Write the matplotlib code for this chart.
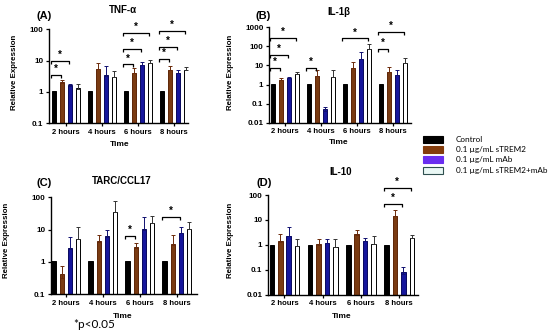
import matplotlib
matplotlib.use('Agg')
import matplotlib.pyplot as plt
import numpy as np
from matplotlib.patches import Rectangle

# ---------------- data ----------------
times = ['2 hours', '4 hours', '6 hours', '8 hours']
groups = ['Control', '0.1 µg/mL sTREM2', '0.1 µg/mL mAb', '0.1 µg/mL sTREM2+mAb']

# (A) TNF-α
tnf_ctrl = [1, 1, 1, 1]
tnf_strem2 = [2.0, 5.3, 4.0, 4.9]
tnf_mab = [1.55, 3.3, 7.4, 3.9]
tnf_combo = [1.2, 2.9, 8.2, 5.0]
tnf_strem2_top = [2.4, 8.2, 5.7, 6.7]
tnf_mab_top = [1.75, 6.7, 9.3, 5.0]
tnf_combo_top = [1.75, 4.8, 10.3, 6.4]
tnf_sig = [(0, 1, 3.4), (0, 2, 10), (2, 1, 7.6), (2, 2, 23.6), (2, 3, 75),
           (3, 1, 11), (3, 2, 28), (3, 3, 89)]

# (B) IL-1β
il1b_ctrl = [1, 1, 1, 1]
il1b_strem2 = [1.7, 2.9, 7.3, 4.7]
il1b_mab = [2.3, 0.04, 22, 3.3]
il1b_combo = [3.5, 2.5, 72, 14]
il1b_strem2_top = [2.2, 5.5, 15, 8]
il1b_mab_top = [2.5, 0.07, 53, 5.7]
il1b_combo_top = [4.8, 6, 130, 25]
il1b_sig = [(0, 1, 7.5), (0, 2, 35), (0, 3, 290), (1, 1, 7.5), (2, 3, 260),
            (3, 1, 75), (3, 3, 590)]

# (C) TARC/CCL17
ccl_ctrl = [1, 1, 1, 1]
ccl_strem2 = [0.31, 4.2, 2.8, 3.4]
ccl_mab = [2.6, 6.1, 10, 7.9]
ccl_combo = [5.0, 35, 15.7, 10.5]
ccl_strem2_top = [0.77, 6.7, 3.9, 6.9]
ccl_mab_top = [5.8, 10, 24, 12]
ccl_combo_top = [11.8, 75, 26, 17]
ccl_sig = [(2, 1, 6.3), (3, 2, 24)]

# (D) IL-10
il10_ctrl = [1, 1, 1, 1]
il10_strem2 = [1.36, 1.03, 2.6, 14.5]
il10_mab = [2.36, 1.17, 1.4, 0.07]
il10_combo = [0.88, 0.83, 1.1, 1.85]
il10_strem2_top = [2.7, 1.74, 3.8, 25]
il10_mab_top = [5.4, 1.74, 1.85, 0.13]
il10_combo_top = [1.7, 1.7, 2.2, 2.4]
il10_sig = [(3, 2, 44), (3, 3, 190)]

# ---------------- style ----------------
W, H = 550, 336
fig = plt.figure(figsize=(5.5, 3.36), dpi=100)
FONT = 'Liberation Sans'
plt.rcParams['font.family'] = [FONT, 'DejaVu Sans']

bar_face = ['#000000', '#7A3B12', '#16169C', '#FFFFFF']
bar_edge = ['#000000', '#5E2608', '#08085E', '#000000']
err_col = ['#000000', '#6B2A0A', '#101070', '#333333']
leg_face = ['#000000', '#843C0C', '#6A2EF0', '#EAF8F5']
leg_edge = ['#000000', '#843C0C', '#6A2EF0', '#2F4F4F']

spacing = 0.22
width = 0.12
offsets = [(i - 1.5) * spacing for i in range(4)]


def px_axes(left, top, right, bottom):
    return fig.add_axes([left / W, 1 - bottom / H, (right - left) / W, (bottom - top) / H])


def panel(box, xlim, ylim, yticks, yticklabels, means, tops, sig, title, letter,
          title_xy, letter_xy, time_xy, ylab_xy):
    ax = px_axes(*box)
    ax.set_yscale('log')
    ax.set_xlim(*xlim)
    ax.set_ylim(*ylim)
    x = np.arange(len(times))
    for g in range(4):
        xs = x + offsets[g]
        ax.bar(xs, means[g], width=width, bottom=ylim[0], color=bar_face[g],
               edgecolor=bar_edge[g], linewidth=0.7, zorder=2)
        if tops[g] is not None:
            up = np.array(tops[g]) - np.array(means[g])
            ax.errorbar(xs, means[g], yerr=[np.zeros(len(xs)), up], fmt='none',
                        ecolor=err_col[g], elinewidth=0.7, capsize=1.3,
                        capthick=0.7, zorder=3)
    ax.set_xticks(x)
    ax.set_xticklabels(times, fontsize=5.5, fontweight='bold')
    ax.set_yticks(yticks)
    ax.set_yticklabels(yticklabels, fontsize=5.8, fontweight='bold')
    ax.yaxis.set_minor_locator(matplotlib.ticker.NullLocator())
    for s in ['top', 'right']:
        ax.spines[s].set_visible(False)
    for s in ['left', 'bottom']:
        ax.spines[s].set_linewidth(1.0)
    ax.tick_params(axis='both', length=2.5, width=0.9, pad=1.5)
    ax.patch.set_alpha(0)

    # significance brackets
    fig.canvas.draw()
    inv = ax.transData.inverted()
    for (t, g, h) in sig:
        x0 = x[t] + offsets[0] - 0.08
        x1 = x[t] + offsets[g] - 0.03
        disp = ax.transData.transform((x0, h))
        arm = inv.transform((disp[0], disp[1] - 3.0))[1]
        star = inv.transform((disp[0], disp[1] + 1.0))[1]
        ax.plot([x0, x0, x1, x1], [arm, h, h, arm], color='black', lw=0.9,
                clip_on=False, zorder=4, solid_capstyle='butt')
        ax.text((x0 + x1) / 2, star, '*', ha='center', va='bottom', fontsize=7,
                fontweight='bold', clip_on=False)

    fig.text(title_xy[0] / W, 1 - title_xy[1] / H, title, ha='center', va='center',
             fontsize=7, fontweight='bold')
    fig.text(letter_xy[0] / W, 1 - letter_xy[1] / H, letter, ha='center', va='center',
             fontsize=8, fontweight='bold')
    fig.text(time_xy[0] / W, 1 - time_xy[1] / H, 'Time', ha='center', va='center',
             fontsize=6, fontweight='bold')
    fig.text(ylab_xy[0] / W, 1 - ylab_xy[1] / H, 'Relative Expression', ha='center',
             va='center', rotation=90, fontsize=5.7, fontweight='bold')
    return ax


panel((49, 29.3, 188, 123.3), (-0.47, 3.39), (0.1, 100), [0.1, 1, 10, 100],
      ['0.1', '1', '10', '100'],
      [tnf_ctrl, tnf_strem2, tnf_mab, tnf_combo],
      [None, tnf_strem2_top, tnf_mab_top, tnf_combo_top], tnf_sig,
      'TNF-α', '(A)', (123, 10), (44, 16), (120, 145), (15, 72))

panel((269, 27.3, 410.8, 122.7), (-0.44, 3.5), (0.01, 1000),
      [0.01, 0.1, 1, 10, 100, 1000], ['0.01', '0.1', '1', '10', '100', '1000'],
      [il1b_ctrl, il1b_strem2, il1b_mab, il1b_combo],
      [None, il1b_strem2_top, il1b_mab_top, il1b_combo_top], il1b_sig,
      'IL-1β', '(B)', (339, 12), (263, 16), (339, 143), (231, 72))

panel((50.7, 197.3, 196.9, 294.3), (-0.41, 3.54), (0.1, 100), [0.1, 1, 10, 100],
      ['0.1', '1', '10', '100'],
      [ccl_ctrl, ccl_strem2, ccl_mab, ccl_combo],
      [None, ccl_strem2_top, ccl_mab_top, ccl_combo_top], ccl_sig,
      'TARC/CCL17', '(C)', (122, 181), (44, 183), (123, 317), (7, 240))

panel((268, 195, 418, 294.7), (-0.43, 3.49), (0.01, 100),
      [0.01, 0.1, 1, 10, 100], ['0.01', '0.1', '1', '10', '100'],
      [il10_ctrl, il10_strem2, il10_mab, il10_combo],
      [None, il10_strem2_top, il10_mab_top, il10_combo_top], il10_sig,
      'IL-10', '(D)', (341, 172), (264, 183), (342, 317), (231, 240))

# legend (drawn in figure pixels)
leg_rows = [139.3, 149.3, 159.3, 170]
for i, lab in enumerate(groups):
    yc = leg_rows[i]
    fig.add_artist(Rectangle(((423) / W, 1 - (yc + 3.5) / H), 20 / W, 7 / H,
                             transform=fig.transFigure, facecolor=leg_face[i],
                             edgecolor=leg_edge[i], linewidth=0.8))
    fig.text(456 / W, 1 - yc / H, lab, ha='left', va='center', fontsize=5.9,
             family=['Lato', 'DejaVu Sans'])

fig.text(73 / W, 1 - 325 / H, '*p<0.05', ha='left', va='center', fontsize=8.5,
         family=['Lato', 'DejaVu Sans'])

fig.savefig('out.png', dpi=100)
